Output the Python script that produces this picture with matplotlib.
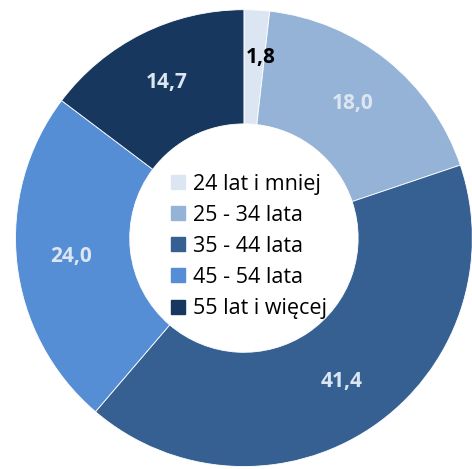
import numpy as np
import matplotlib.pyplot as plt
from matplotlib.lines import Line2D

plt.rcParams['font.family'] = ['Open Sans', 'DejaVu Sans']

# data
groups = ["24 lat i mniej", "25 - 34 lata", "35 - 44 lata", "45 - 54 lata", "55 lat i więcej"]
shares = [1.8, 18.0, 41.4, 24.0, 14.7]
value_labels = ["1,8", "18,0", "41,4", "24,0", "14,7"]
colors = ["#DCE6F2", "#95B3D7", "#366092", "#558ED5", "#17375E"]
label_colors = ["black", "#DCE6F2", "#DCE6F2", "#DCE6F2", "#DCE6F2"]

fig = plt.figure(figsize=(4.72, 4.69), dpi=100)
ax = fig.add_axes([0.0328, 0.0053, 0.968, 0.974])

wedges, _ = ax.pie(shares, colors=colors, startangle=90, counterclock=False,
                   radius=1.0, wedgeprops=dict(width=0.5, edgecolor="white", linewidth=0.6))
ax.set_xlim(-1, 1)
ax.set_ylim(-1, 1)
ax.axis("off")

# value labels in the ring
for i, w in enumerate(wedges):
    mid = np.deg2rad((w.theta1 + w.theta2) / 2)
    r = 0.79 if i == 0 else 0.76
    dx = 0.03 if i == 0 else 0.0
    ax.text(r * np.cos(mid) + dx, r * np.sin(mid), value_labels[i], ha="center", va="center",
            fontsize=15, fontweight="bold", color=label_colors[i])

handles = [Line2D([0], [0], marker="s", linestyle="none", markersize=10,
                  markerfacecolor=c, markeredgecolor=c) for c in colors]
ax.legend(handles, groups, loc="center", bbox_to_anchor=(0.51, 0.482), frameon=False,
          fontsize=15.5, handlelength=0.8, handletextpad=0.3, labelspacing=0.47,
          borderaxespad=0)

fig.savefig("out.png", dpi=100)
